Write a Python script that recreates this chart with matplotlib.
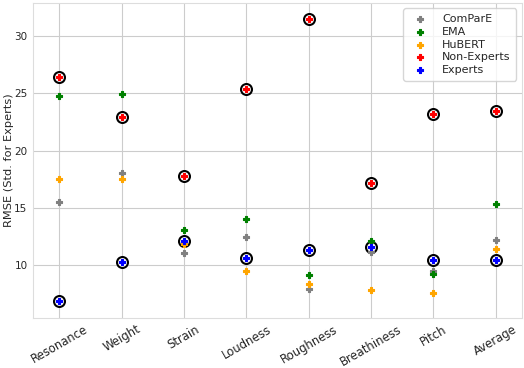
import matplotlib
matplotlib.use("Agg")
from matplotlib import pyplot as plt
import seaborn as sns

categories = ["Resonance", "Weight", "Strain", "Loudness", "Roughness",
              "Breathiness", "Pitch", "Average"]

compare = [15.55, 18.05, 11.07, 12.46, 7.97, 11.13, 9.48, 12.22]
ema = [24.76, 24.93, 13.06, 14.02, 9.13, 12.08, 9.24, 15.32]
hubert = [17.5, 17.5, 11.85, 9.5, 8.38, 7.83, 7.62, 11.44]
non_experts = [26.4, 22.9, 17.81, 25.36, 31.47, 17.14, 23.22, 23.48]
experts = [6.9, 10.29, 12.14, 10.63, 11.35, 11.56, 10.43, 10.46]

sns.set_style("whitegrid")
plt.rcParams['font.family'] = ['DejaVu Sans']

fig = plt.figure(figsize=(5.24, 3.68), dpi=100)
ax = fig.add_axes([0.063, 0.136, 0.933, 0.856])
x = list(range(len(categories)))

# rings behind the human ratings
ax.scatter(x, non_experts, s=62, facecolor='white', edgecolor='black', linewidth=1.5, zorder=3)
ax.scatter(x, experts, s=62, facecolor='white', edgecolor='black', linewidth=1.5, zorder=3)

series = [("ComParE", compare, "grey"), ("EMA", ema, "green"),
          ("HuBERT", hubert, "orange"), ("Non-Experts", non_experts, "red"),
          ("Experts", experts, "blue")]
for name, vals, col in series:
    ax.scatter(x, vals, s=24, marker='P', color=col, edgecolor=col,
               linewidth=0.8, label=name, zorder=4)

ax.set_xlim(-0.42, 7.42)
ax.set_ylim(5.4, 32.9)
ax.set_yticks([10, 15, 20, 25, 30])
ax.set_xticks(x)
ax.set_xticklabels(categories, rotation=30, fontsize=8.4)
ax.tick_params(axis='y', labelsize=7.5, pad=0.5)
ax.tick_params(axis='x', pad=0)
ax.set_ylabel("RMSE (Std. for Experts)", fontsize=8.2)
ax.yaxis.set_label_coords(-0.038, 0.5)
for s in ax.spines.values():
    s.set_color('#dddddd')
ax.legend(loc='upper right', fontsize=8, handletextpad=1.0, borderpad=0.5,
          labelspacing=0.25, frameon=True, markerscale=0.8)

fig.savefig("out.png", dpi=100)
